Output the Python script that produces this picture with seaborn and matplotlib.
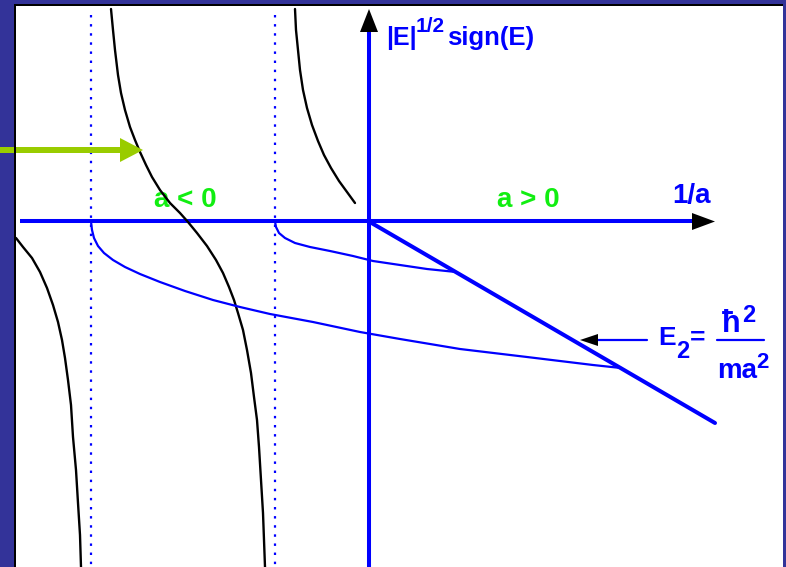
import matplotlib
matplotlib.use("Agg")
import matplotlib.pyplot as plt
from matplotlib.patches import Rectangle
from matplotlib.lines import Line2D
import seaborn as sns

# ---- data: x = 1/a, y = |E|^(1/2) sign(E) (arbitrary units) ----
# trimer branches (black)
branch_a_x = [-2.58, -2.56, -2.54, -2.51, -2.48, -2.44, -2.39, -2.34, -2.29, -2.23,
              -2.17, -2.09, -1.99, -1.89, -1.81, -1.72, -1.62, -1.53, -1.46, -1.40,
              -1.35, -1.31, -1.26, -1.22, -1.18, -1.15, -1.12, -1.10, -1.08, -1.06, -1.04]
branch_a_y = [2.125, 1.915, 1.715, 1.465, 1.285, 1.115, 0.945, 0.815, 0.695, 0.565,
              0.445, 0.315, 0.185, 0.085, -0.005, -0.115, -0.245, -0.385, -0.515, -0.655,
              -0.785, -0.915, -1.085, -1.285, -1.515, -1.755, -1.985, -2.255, -2.585, -2.915,
              -3.455]

branch_b_x = [-0.74, -0.73, -0.71, -0.69, -0.66, -0.62, -0.57, -0.51, -0.45, -0.38,
              -0.30, -0.22, -0.14]
branch_b_y = [2.125, 1.915, 1.715, 1.515, 1.315, 1.135, 0.965, 0.805, 0.665, 0.535,
              0.405, 0.295, 0.185]

branch_c_x = [-3.53, -3.46, -3.37, -3.29, -3.22, -3.16, -3.11, -3.07, -3.04, -3.01,
              -2.98, -2.96, -2.93, -2.91, -2.89, -2.88]
branch_c_y = [-0.165, -0.255, -0.365, -0.505, -0.665, -0.835, -1.005, -1.185, -1.365, -1.585,
              -1.835, -2.155, -2.485, -2.815, -3.135, -3.455]

# bound-state branches (blue), ending on the dimer threshold
bound_1_x = [-2.78, -2.77, -2.75, -2.71, -2.65, -2.56, -2.44, -2.29, -2.09, -1.84,
             -1.56, -1.29, -0.99, -0.56, -0.09, 0.31, 0.91, 1.58, 2.24, 2.52]
bound_1_y = [0.0, -0.085, -0.165, -0.245, -0.315, -0.385, -0.455, -0.525, -0.605, -0.695,
             -0.785, -0.855, -0.925, -1.005, -1.105, -1.175, -1.275, -1.355, -1.435, -1.465]

bound_2_x = [-0.94, -0.93, -0.90, -0.84, -0.74, -0.59, -0.39, -0.16, 0.04, 0.31, 0.58, 0.87]
bound_2_y = [0.0, -0.055, -0.115, -0.165, -0.215, -0.255, -0.295, -0.345, -0.395, -0.435,
             -0.475, -0.505]

# dimer threshold E_2 (a > 0)
dimer_x = [0.0, 3.46]
dimer_y = [0.0, -2.015]

# resonance positions (dotted)
resonances = [-2.78, -0.94]

# ---- styling ----
BORDER = "#333399"
BLUE = "#0000ff"
GREEN_TXT = "#11ee11"
GREEN_ARROW = "#99cc00"

sns.set_theme(style="white")
plt.rcParams["font.family"] = ["Liberation Sans", "DejaVu Sans"]

fig = plt.figure(figsize=(7.86, 5.67), dpi=100)
fig.patch.set_facecolor(BORDER)
ax = fig.add_axes([16 / 786, 0, 767 / 786, 561 / 567])
ax.set_facecolor("white")
ax.set_xlim(-3.53, 4.14)
ax.set_ylim(-3.455, 2.155)
ax.set_xticks([])
ax.set_yticks([])
for s in ax.spines.values():
    s.set_visible(False)

# black edge of the white panel
fig.add_artist(Rectangle((14 / 786, 0), 2 / 786, 563 / 567,
                         transform=fig.transFigure, color="black", lw=0))
fig.add_artist(Rectangle((14 / 786, 561 / 567), 769 / 786, 2 / 567,
                         transform=fig.transFigure, color="black", lw=0))

# dotted resonance lines
for xr in resonances:
    ax.plot([xr, xr], [2.065, -3.455], color=BLUE, lw=1.6,
            linestyle=(0, (1.1, 3.0)), solid_capstyle="butt", zorder=1)

# coordinate axes
X_TIP, Y_TIP = 3.46, 2.125
ax.plot([-3.49, X_TIP - 0.2], [0, 0], color=BLUE, lw=2.9, zorder=2, solid_capstyle="butt")
ax.plot([0, 0], [-3.455, Y_TIP - 0.2], color=BLUE, lw=2.9, zorder=2, solid_capstyle="butt")
ax.arrow(X_TIP - 0.23, 0, 0.23, 0, width=0, head_width=0.17, head_length=0.23,
         length_includes_head=True, fc="black", ec="none", zorder=5)
ax.arrow(0, Y_TIP - 0.23, 0, 0.23, width=0, head_width=0.18, head_length=0.23,
         length_includes_head=True, fc="black", ec="none", zorder=5)

# dimer threshold
sns.lineplot(x=dimer_x, y=dimer_y, sort=False, estimator=None, color=BLUE, lw=2.9, ax=ax,
             zorder=3)

# black branches
for bx, by in [(branch_a_x, branch_a_y), (branch_b_x, branch_b_y), (branch_c_x, branch_c_y)]:
    sns.lineplot(x=bx, y=by, sort=False, estimator=None, color="black", lw=1.7, ax=ax,
                 zorder=4)

# blue bound-state branches
for bx, by in [(bound_1_x, bound_1_y), (bound_2_x, bound_2_y)]:
    sns.lineplot(x=bx, y=by, sort=False, estimator=None, color=BLUE, lw=1.6, ax=ax,
                 zorder=4)

# green pointer arrow
ax.arrow(-3.69, 0.715, 1.43, 0, width=0.06, head_width=0.24, head_length=0.23,
         length_includes_head=True, fc=GREEN_ARROW, ec="none", clip_on=False, zorder=6)

# E_2 pointer
ax.plot([2.78, 2.25], [-1.185, -1.185], color=BLUE, lw=1.6, zorder=5)
ax.arrow(2.29, -1.185, -0.18, 0, width=0, head_width=0.12, head_length=0.18,
         length_includes_head=True, fc="black", ec="none", zorder=6)

# labels
bold = dict(fontweight="bold")
ax.text(-1.84, 0.145, "a < 0", color=GREEN_TXT, fontsize=20, ha="center", va="baseline", **bold)
ax.text(1.59, 0.145, "a > 0", color=GREEN_TXT, fontsize=20, ha="center", va="baseline", **bold)
ax.text(3.22, 0.185, "1/a", color=BLUE, fontsize=20, ha="center", va="baseline", **bold)

ax.text(0.17, 1.765, "|E|", color=BLUE, fontsize=18, ha="left", va="baseline", **bold)
ax.text(0.47, 1.895, "1/2", color=BLUE, fontsize=15, ha="left", va="baseline", **bold)
ax.text(0.78, 1.765, "sign(E)", color=BLUE, fontsize=18.5, ha="left", va="baseline", **bold)

ax.text(2.89, -1.235, "E", color=BLUE, fontsize=19, ha="left", va="baseline", **bold)
ax.text(3.07, -1.365, "2", color=BLUE, fontsize=17, ha="left", va="baseline", **bold)
ax.text(3.21, -1.235, "=", color=BLUE, fontsize=19, ha="left", va="baseline", **bold)
ax.text(3.53, -1.105, "ħ", color=BLUE, fontsize=22, ha="left", va="baseline", **bold)
ax.text(3.73, -1.005, "2", color=BLUE, fontsize=17, ha="left", va="baseline", **bold)
ax.add_line(Line2D([3.48, 3.95], [-1.185, -1.185], color=BLUE, lw=1.6))
ax.text(3.48, -1.565, "ma", color=BLUE, fontsize=20, ha="left", va="baseline", **bold)
ax.text(3.875, -1.465, "2", color=BLUE, fontsize=16, ha="left", va="baseline", **bold)

fig.savefig("out.png", dpi=100, facecolor=fig.get_facecolor())
